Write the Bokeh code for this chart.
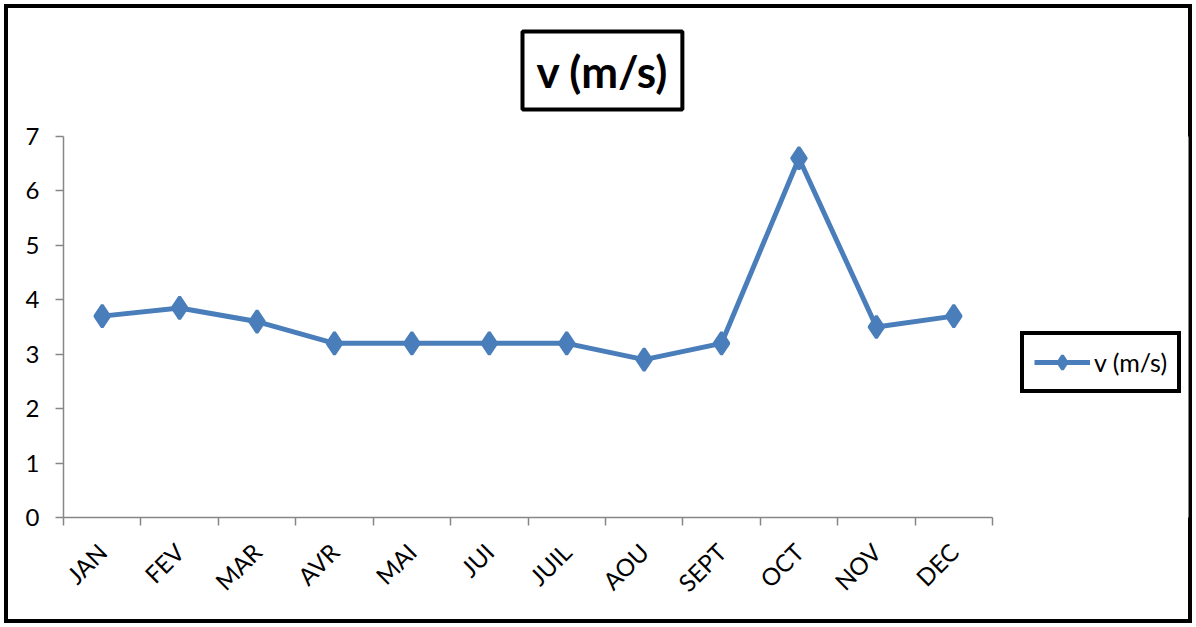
from math import pi

from bokeh.embed import file_html
from bokeh.models import FixedTicker, Legend, LegendItem, LinearAxis, Range1d, Title
from bokeh.plotting import figure
from bokeh.resources import INLINE

# Monthly mean wind speed
months = ["JAN", "FEV", "MAR", "AVR", "MAI", "JUI", "JUIL", "AOU", "SEPT", "OCT", "NOV", "DEC"]
speed = [3.7, 3.85, 3.6, 3.2, 3.2, 3.2, 3.2, 2.9, 3.2, 6.6, 3.5, 3.7]
y_ticks = [0, 1, 2, 3, 4, 5, 6, 7]
series_name = "v (m/s)"
title_text = "v (m/s)"

# month number on the x axis (1 = JAN ... 12 = DEC)
month_no = list(range(1, len(months) + 1))

BLUE = "#4A7EBB"
GRAY = "#868686"
FONT = "Lato"

# The plotting frame runs on to the right edge so that the legend can sit
# beside the months; the axis line itself stops after DEC.
AXIS_PX = 929          # width of the twelve month slots
FRAME_LEFT, FRAME_RIGHT = 63, 1188
x_end = 0.5 + (FRAME_RIGHT - FRAME_LEFT) * len(months) / AXIS_PX

p = figure(
    width=1196, height=627,
    x_range=Range1d(0.5, x_end),
    y_range=Range1d(0, 7),
    output_backend="svg", toolbar_location=None,
    x_axis_location=None, y_axis_location=None,
    min_border_left=FRAME_LEFT, min_border_right=1196 - FRAME_RIGHT,
    min_border_top=136, min_border_bottom=110,
    outline_line_color=None,
    border_fill_alpha=0,
)
p.grid.visible = False
# black frame round the whole chart
p.styles = {"outline": "4px solid black", "outline-offset": "-8px"}

# month labels at the centres, tick marks between the months
x_axis = LinearAxis(
    bounds=(0.5, len(months) + 0.5),
    ticker=FixedTicker(ticks=month_no,
                       minor_ticks=[m - 0.5 for m in month_no] + [month_no[-1] + 0.5]),
    major_label_overrides={m: name for m, name in zip(month_no, months)},
    axis_line_color=GRAY, axis_line_width=1.5,
    major_tick_line_color=None, major_tick_out=0, major_tick_in=0,
    minor_tick_line_color=GRAY, minor_tick_line_width=1.5,
    minor_tick_out=8, minor_tick_in=0,
    major_label_orientation=pi / 4,
    major_label_text_font=FONT, major_label_text_font_size="24px",
    major_label_text_color="black",
    major_label_standoff=22,
)
p.add_layout(x_axis, "below")

y_axis = LinearAxis(
    ticker=FixedTicker(ticks=y_ticks),
    axis_line_color=GRAY, axis_line_width=1.5,
    major_tick_line_color=GRAY, major_tick_line_width=1.5,
    major_tick_out=8, major_tick_in=0,
    minor_tick_line_color=None,
    major_label_text_font=FONT, major_label_text_font_size="24px",
    major_label_text_color="black",
    major_label_standoff=16,
)
p.add_layout(y_axis, "left")

r_line = p.line(x=month_no, y=speed, line_color=BLUE, line_width=5)
r_pts = p.scatter(x=month_no, y=speed, marker="diamond", size=22,
                  fill_color=BLUE, line_color=BLUE, line_width=3)

legend = Legend(
    items=[LegendItem(label=series_name, renderers=[r_line, r_pts])],
    location=(957, 124),
    border_line_color="black", border_line_width=4, border_line_alpha=1,
    background_fill_color="white",
    padding=10, margin=0, spacing=0,
    glyph_width=56, glyph_height=34, label_height=34,
    label_standoff=4,
    label_text_font=FONT, label_text_font_size="25px", label_text_color="black",
)
p.add_layout(legend)

p.title = Title(
    text=title_text, align="left", offset=459, standoff=54,
    text_font=FONT, text_font_size="44px", text_font_style="bold",
    text_color="black",
    border_line_color="black", border_line_width=4,
    background_fill_color="white",
    padding=dict(left=14, right=14, top=13, bottom=13),
)

open("out.html", "w").write(file_html(p, INLINE))
